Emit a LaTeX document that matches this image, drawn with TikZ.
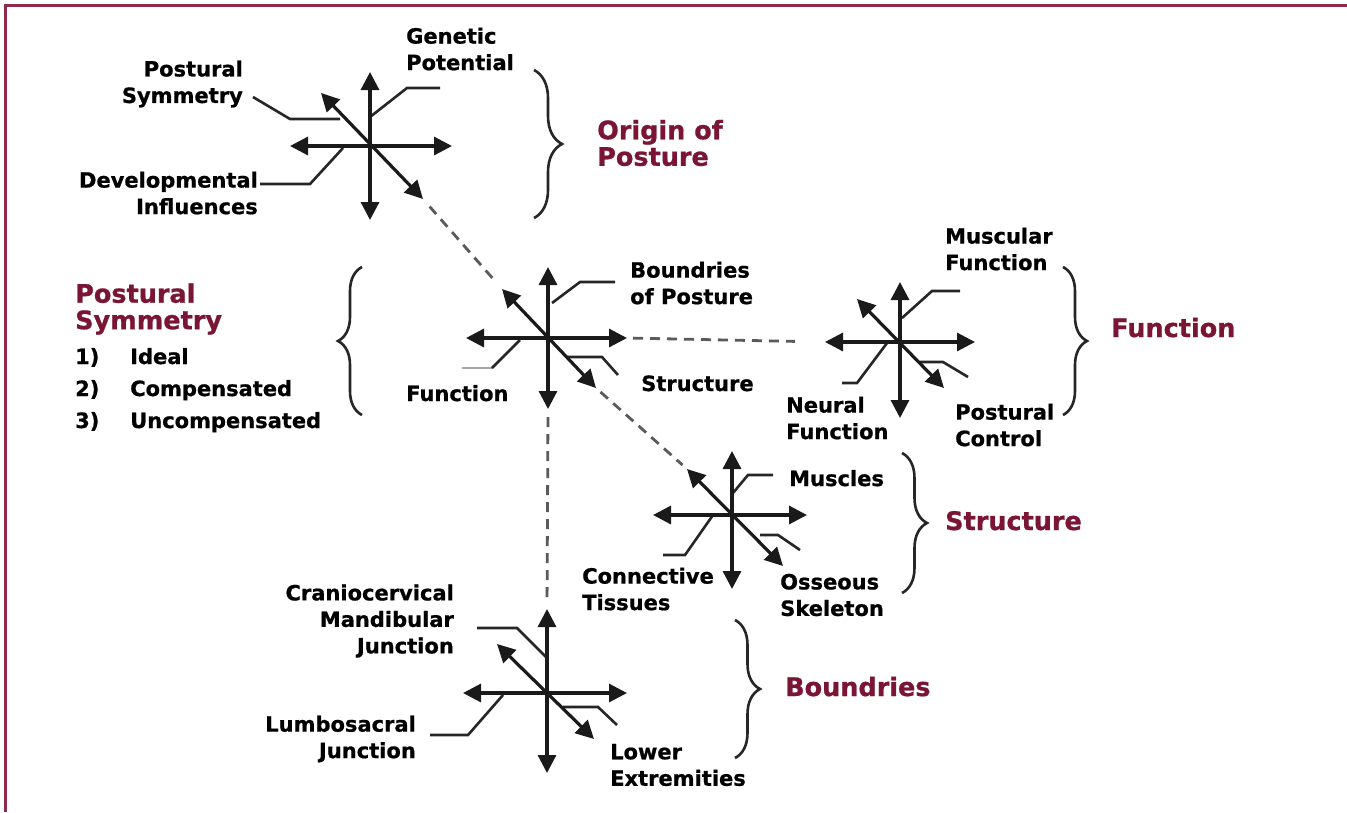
\documentclass[tikz,border=0pt]{standalone}
\usepackage{fontspec}
\setmainfont{DejaVu Sans}[BoldFeatures={FakeBold=0.8}]
\usetikzlibrary{arrows.meta,decorations.pathreplacing,calc}
\definecolor{maroon}{HTML}{7A1535}
\definecolor{framecol}{HTML}{8E2B4C}
\definecolor{ink}{HTML}{1A1A1A}
\definecolor{lead}{HTML}{262626}
\definecolor{dashcol}{HTML}{5A5A5A}
\begin{document}
\begin{tikzpicture}[x=1pt,y=-1pt,
  arm/.style={draw=ink, line width=3.2pt, {Triangle[length=18pt,width=18pt]}-{Triangle[length=18pt,width=18pt]}},
  leader/.style={draw=lead, line width=2.6pt},
  dashline/.style={draw=dashcol, line width=2.8pt, dash pattern=on 10pt off 7pt},
  bracestyle/.style={draw=lead, line width=2.6pt, decorate},
  lbl/.style={font=\fontsize{21}{26.5}\selectfont\bfseries, inner sep=0pt, text=black},
  head/.style={font=\fontsize{25.5}{26.5}\selectfont\bfseries, inner sep=0pt, text=maroon, align=left}
]
\useasboundingbox (0,0) rectangle (1347,812);
\fill[white] (0,0) rectangle (1347,812);
\draw[framecol, line width=3pt] (5,812) -- (5,5) -- (1347,5);

% ---------- cross 1 : origin ----------
\coordinate (c1n) at (370,72);  \coordinate (c1s) at (370,220);
\coordinate (c1w) at (290,146); \coordinate (c1e) at (452,146);
\coordinate (c1nw) at (321,93); \coordinate (c1se) at (423,199);
% ---------- cross 2 : centre ----------
\coordinate (c2n) at (548,267);  \coordinate (c2s) at (548,409);
\coordinate (c2w) at (466,338);  \coordinate (c2e) at (627,338);
\coordinate (c2nw) at (502,289); \coordinate (c2se) at (596,388);
% ---------- cross 3 : function ----------
\coordinate (c3n) at (900,282);  \coordinate (c3s) at (900,418);
\coordinate (c3w) at (825,342);  \coordinate (c3e) at (975,342);
\coordinate (c3nw) at (857,299); \coordinate (c3se) at (944,388);
% ---------- cross 4 : structure ----------
\coordinate (c4n) at (732,451);  \coordinate (c4s) at (732,589);
\coordinate (c4w) at (653,515);  \coordinate (c4e) at (807,515);
\coordinate (c4nw) at (687,469); \coordinate (c4se) at (783,566);
% ---------- cross 5 : boundries ----------
\coordinate (c5n) at (547,609);  \coordinate (c5s) at (547,773);
\coordinate (c5w) at (463,693);  \coordinate (c5e) at (627,693);
\coordinate (c5nw) at (497,644); \coordinate (c5se) at (594,739);

% dashed connectors
\draw[dashline, shorten <=10pt, shorten >=8pt] (c1se) -- (c2nw);
\draw[dashline, shorten <=6pt, shorten >=30pt] (c2e) -- (c3w);
\draw[dashline, shorten <=6pt, shorten >=6pt] (c2se) -- (c4nw);
\draw[dashline, shorten <=8pt, shorten >=10pt] (c2s) -- (c5n);

% leaders
\draw[leader] (370,117) -- (407,88) -- (440,88);
\draw[leader] (253,97) -- (290,119) -- (340,119);
\draw[leader] (260,184) -- (310,184) -- (343,148);

\draw[leader] (552,303) -- (580,282) -- (615,282);
\draw[leader, draw=gray!70] (462,368) -- (492,368);
\draw[leader] (492,368) -- (520,340);
\draw[leader] (567,357) -- (602,357) -- (618,375);

\draw[leader] (902,318) -- (932,291) -- (960,291);
\draw[leader] (842,383) -- (857,383) -- (887,343);
\draw[leader] (920,362) -- (943,362) -- (968,377);

\draw[leader] (733,493) -- (748,475) -- (773,475);
\draw[leader] (663,555) -- (685,555) -- (713,515);
\draw[leader] (760,535) -- (778,535) -- (800,550);

\draw[leader] (477,628) -- (517,628) -- (547,658);
\draw[leader] (430,735) -- (468,735) -- (503,695);
\draw[leader] (563,707) -- (598,707) -- (617,725);

% crosses
\foreach \k in {1,...,5}{
  \draw[arm] (c\k s) -- (c\k n);
  \draw[arm] (c\k w) -- (c\k e);
  \draw[arm] (c\k se) -- (c\k nw);
}

% braces
\draw[bracestyle, decoration={brace, amplitude=28pt}] (534,70) -- (534,218);
\draw[bracestyle, decoration={brace, amplitude=24pt}] (362,415) -- (362,267);
\draw[bracestyle, decoration={brace, amplitude=24pt}] (1063,267) -- (1063,415);
\draw[bracestyle, decoration={brace, amplitude=25pt}] (902,453) -- (902,593);
\draw[bracestyle, decoration={brace, amplitude=25pt}] (735,620) -- (735,758);

% labels
\node[lbl, align=left,  anchor=west] (genetic) at (406,49) {Genetic\\Potential};
\node[lbl, align=right, anchor=east] (psym) at (243,84) {Postural\\Symmetry};
\node[lbl, align=right, anchor=east] (devel) at (258,193) {Developmental\\Influences};
\node[lbl, align=left,  anchor=west] (bound) at (630,283) {Boundries\\of Posture};
\node[lbl, anchor=base west] (func) at (406,401) {Function};
\node[lbl, anchor=base west] (struct) at (641,391) {Structure};
\node[lbl, align=left,  anchor=west] (muscf) at (945,249) {Muscular\\Function};
\node[lbl, align=left,  anchor=west] (neural) at (786,418) {Neural\\Function};
\node[lbl, align=left,  anchor=west] (pctrl) at (955,425) {Postural\\Control};
\node[lbl, anchor=base west] (muscles) at (789,486) {Muscles};
\node[lbl, align=left,  anchor=west] (conn) at (582,589) {Connective\\Tissues};
\node[lbl, align=left,  anchor=west] (osse) at (780,595) {Osseous\\Skeleton};
\node[lbl, align=right, anchor=east] (cranio) at (454,621) {Craniocervical\\Mandibular\\Junction};
\node[lbl, align=right, anchor=east] (lumbo) at (416,739) {Lumbosacral\\Junction};
\node[lbl, align=left,  anchor=west] (lower) at (610,765) {Lower\\Extremities};

% headings
\node[head, anchor=west] (hOrigin) at (597,143) {Origin of\\Posture};
\node[head, anchor=west] (hSym) at (75,309) {Postural\\Symmetry};
\node[head, anchor=base west] (hFunc) at (1111,337) {Function};
\node[head, anchor=base west] (hStruct) at (945,530) {Structure};
\node[head, anchor=base west] (hBound) at (785,696) {Boundries};

% list
\node[lbl, anchor=base west] (n1) at (75,364) {1)};
\node[lbl, anchor=base west] (i1) at (130,364) {Ideal};
\node[lbl, anchor=base west] (n2) at (75,396) {2)};
\node[lbl, anchor=base west] (i2) at (130,396) {Compensated};
\node[lbl, anchor=base west] (n3) at (75,428) {3)};
\node[lbl, anchor=base west] (i3) at (130,428) {Uncompensated};
\end{tikzpicture}
\end{document}
